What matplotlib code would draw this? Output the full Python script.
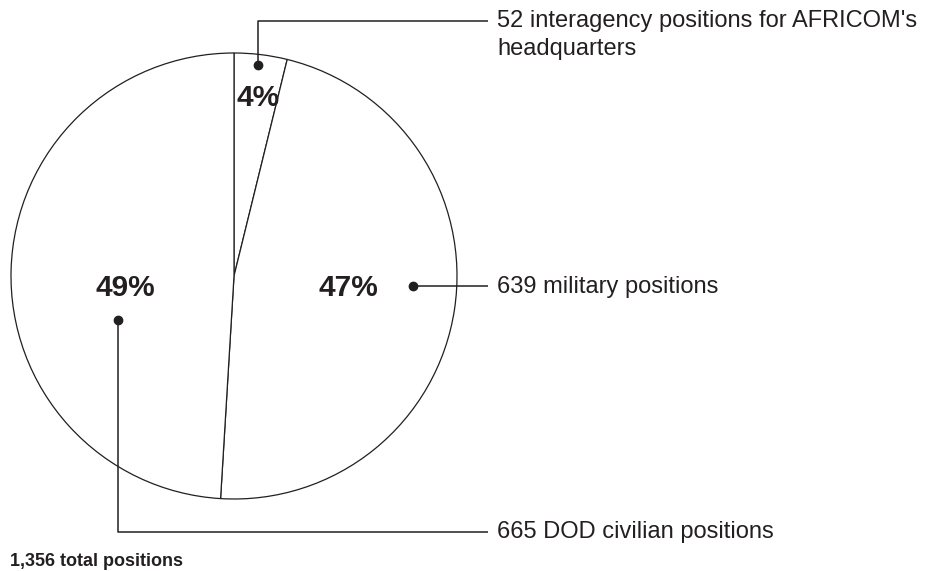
import matplotlib
matplotlib.use("Agg")
import matplotlib.pyplot as plt

plt.rcParams["font.family"] = ["Liberation Sans", "DejaVu Sans"]

# data
labels = ["52 interagency positions for AFRICOM's\nheadquarters",
          "639 military positions",
          "665 DOD civilian positions"]
counts = [52, 639, 665]
pct_labels = ["4%", "47%", "49%"]
total_label = "1,356 total positions"

W, H = 935, 571
fig = plt.figure(figsize=(W / 100, H / 100), dpi=100)
ax = fig.add_axes([0, 0, 1, 1])
ax.axis("off")


def py(y):
    # pixel row (from top) -> data y
    return H - y


cx, cy, r = 234, 276, 223
ax.pie(counts, startangle=90, counterclock=False, center=(cx, py(cy)), radius=r,
       colors=["white"] * 3,
       wedgeprops=dict(edgecolor="#231f20", linewidth=0.9))
ax.set_xlim(0, W)
ax.set_ylim(0, H)
ax.set_aspect("equal")

# percent labels
pct_pos = [(258, 98), (348, 288), (125, 288)]
for t, (x, y) in zip(pct_labels, pct_pos):
    ax.text(x, py(y), t, ha="center", va="center", fontsize=21.5,
            fontweight="bold", color="#231f20")

# leader lines: dot, path, text
lc = "#231f20"
text_x = 497
leaders = [
    [(258, 65), (258, 21), (488, 21)],
    [(413, 286), (488, 286)],
    [(118, 320), (118, 532), (488, 532)],
]
text_y = [35, 287, 532]
for pts, lab, ty in zip(leaders, labels, text_y):
    xs = [p[0] for p in pts]
    ys = [py(p[1]) for p in pts]
    ax.plot(xs, ys, color=lc, linewidth=1.1, solid_capstyle="butt")
    ax.plot(xs[0], ys[0], "o", color=lc, markersize=6)
    ax.text(text_x, py(ty), lab, ha="left", va="center", fontsize=17,
            color=lc, linespacing=1.3)

ax.text(10, py(561), total_label, ha="left", va="center", fontsize=13,
        fontweight="bold", color=lc)

fig.savefig("out.png", dpi=100)
